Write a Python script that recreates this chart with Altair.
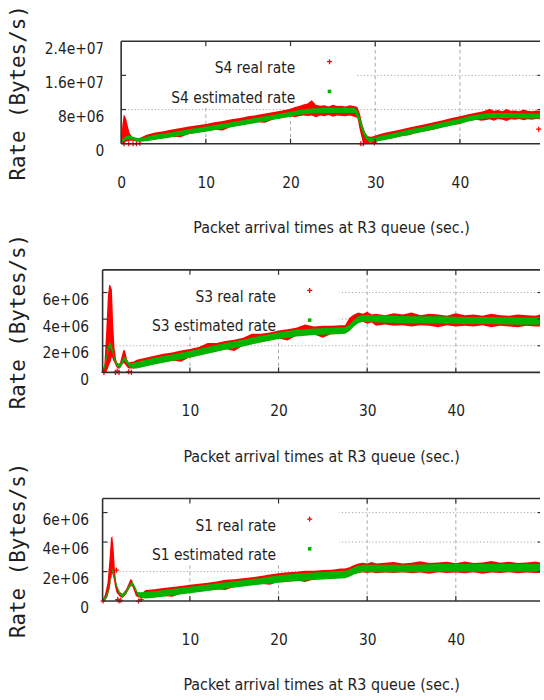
import altair as alt
import pandas as pd

# ---------------- data (rates in units of 1e6 Bytes/s, time in s) ----------------
# --- S4 ---
s4_est_t = [0.0, 0.2, 0.5, 0.9, 1.3, 1.8, 2.3, 3.0, 4.0, 6.0, 8.0, 10.0, 12.0, 14.0, 16.0, 18.0, 20.0,
            21.0, 22.0, 24.0, 26.0, 27.6, 28.0, 28.4, 28.8, 29.2, 29.6, 30.0, 31.0, 32.0, 34.0, 36.0,
            38.0, 40.0, 41.0, 42.0, 43.0, 44.0, 46.0, 48.0, 49.46]
s4_est_lo = [0.0, 0.4, 0.9, 1.1, 0.9, 0.6, 0.5, 0.6, 0.9, 1.5, 2.2, 2.8, 3.5, 4.2, 4.9, 5.6, 6.3,
             6.7, 7.0, 7.2, 7.2, 7.2, 5.6, 3.2, 1.4, 0.5, 0.3, 0.5, 0.8, 1.2, 2.1, 2.9,
             3.8, 4.7, 5.2, 5.6, 5.9, 6.0, 6.0, 5.9, 5.9]
s4_est_hi = [0.3, 1.2, 1.7, 1.9, 1.7, 1.4, 1.3, 1.6, 2.1, 2.7, 3.4, 4.0, 4.7, 5.4, 6.1, 6.8, 7.5,
             7.9, 8.2, 8.4, 8.4, 8.4, 7.4, 4.8, 2.6, 1.5, 1.3, 1.5, 2.0, 2.4, 3.3, 4.1,
             5.0, 5.9, 6.4, 6.8, 7.1, 7.2, 7.2, 7.1, 7.1]
s4_real_t = [0.0, 0.15, 0.3, 0.45, 0.6, 0.8, 1.0, 1.3, 1.7, 2.1, 2.5, 3.0,
             4.0, 5.0, 6.0, 7.0, 8.0, 9.0, 10.0, 11.0, 12.0, 13.0, 14.0, 15.0, 16.0, 17.0, 18.0, 19.0, 20.0,
             20.5, 21.0, 21.5, 22.0, 22.5, 23.0, 23.5, 24.0, 24.5, 25.0, 25.5, 26.0, 26.5, 27.0, 27.5,
             27.9, 28.2, 28.5, 28.8, 29.1, 29.4, 29.7, 30.0,
             31.0, 32.0, 33.0, 34.0, 35.0, 36.0, 37.0, 38.0, 39.0, 40.0, 41.0, 42.0,
             42.5, 43.0, 43.5, 44.0, 44.5, 45.0, 45.5, 46.0, 46.5, 47.0, 47.5, 48.0, 48.5, 49.0,
             49.46]
s4_real_hi = [0.5, 4.5, 6.8, 6.5, 5.8, 4.0, 2.5, 1.5, 1.3, 1.3, 1.6, 2.1,
              2.6, 2.9, 3.3, 3.7, 4.0, 4.3, 4.6, 5.0, 5.3, 5.7, 6.0, 6.4, 6.7, 7.1, 7.4, 7.8, 8.2,
              8.6, 8.8, 9.2, 9.4, 10.2, 9.1, 8.9, 9.0, 8.7, 9.1, 8.8, 8.9, 8.7, 9.0, 8.8,
              8.6, 7.0, 4.4, 2.6, 1.8, 1.6, 1.7, 1.9,
              2.5, 2.9, 3.3, 3.8, 4.2, 4.6, 5.1, 5.5, 6.0, 6.4, 6.9, 7.3,
              7.5, 7.8, 8.2, 7.7, 7.9, 7.6, 8.1, 7.7, 7.8, 7.6, 8.0, 7.7, 7.6, 7.8,
              7.7]
s4_real_lo = [0.0, 0.0, 0.0, 0.3, 0.5, 0.6, 0.7, 0.7, 0.6, 0.5, 0.6, 0.7,
              1.0, 1.3, 1.6, 1.5, 2.3, 2.6, 2.9, 3.25, 3.1, 3.95, 4.3, 4.65, 5.0, 4.9, 5.7, 6.05, 6.4,
              6.2, 6.4, 6.6, 6.5, 6.6, 6.2, 6.6, 6.4, 6.7, 6.3, 6.6, 6.5, 6.4, 6.6, 6.3,
              6.0, 3.0, 0.6, 0.0, 0.0, 0.3, 0.0, 0.4,
              0.9, 1.3, 1.75, 2.0, 2.6, 3.0, 3.3, 3.9, 4.35, 4.6, 5.3, 5.6,
              5.4, 5.5, 5.7, 5.4, 5.8, 5.6, 5.3, 5.7, 5.6, 5.8, 5.5, 5.7, 5.6, 5.8,
              5.7]
s4_single_t = [0.35, 0.9, 1.4, 1.8, 2.2, 28.3, 28.6, 29.9, 49.3]
s4_single_v = [0.0, 0.0, 0.0, 0.0, 0.1, 0.0, 0.0, 0.2, 3.4]

# --- S3 ---
s3_est_t = [0.15, 0.4, 0.7, 0.95, 1.2, 1.5, 1.8, 2.1, 2.4, 2.6, 2.9, 3.2, 3.6, 4.0,
            6.0, 8.0, 10.0, 12.0, 14.0, 16.0, 18.0, 20.0, 22.0, 24.0, 26.0,
            27.5, 28.0, 28.5, 29.0, 29.5, 30.0, 32.0, 35.0, 38.0, 41.0, 44.0, 47.0, 49.5]
s3_est_lo = [0.0, 0.35, 1.3, 1.9, 1.6, 0.85, 0.4, 0.35, 0.65, 0.9, 0.65, 0.4, 0.3, 0.3,
             0.6, 0.85, 1.1, 1.4, 1.7, 1.95, 2.25, 2.5, 2.7, 2.8, 2.85,
             2.9, 3.1, 3.45, 3.7, 3.8, 3.78, 3.73, 3.68, 3.68, 3.63, 3.63, 3.58, 3.58]
s3_est_hi = [0.15, 0.65, 1.7, 2.3, 2.0, 1.15, 0.7, 0.65, 0.95, 1.2, 0.95, 0.7, 0.7, 0.8,
             1.1, 1.35, 1.6, 1.9, 2.2, 2.45, 2.75, 3.0, 3.2, 3.3, 3.35,
             3.4, 3.6, 3.95, 4.2, 4.32, 4.32, 4.27, 4.22, 4.22, 4.17, 4.17, 4.12, 4.12]
s3_real_t = [0.15, 0.35, 0.55, 0.75, 0.9, 1.05, 1.2, 1.35, 1.5, 1.7, 1.9, 2.1, 2.3, 2.5, 2.7, 2.9, 3.1, 3.3, 3.6,
             4.0, 5.0, 6.0, 7.0, 8.0, 9.0, 10.0, 11.0, 12.0, 13.0, 14.0, 15.0, 16.0, 17.0, 18.0, 19.0,
             20.0, 21.0, 22.0, 23.0, 24.0, 25.0, 26.0, 27.0,
             27.5, 28.0, 28.5, 29.0, 29.5, 30.0, 30.5,
             31.0, 32.0, 33.0, 34.0, 35.0, 36.0, 37.0, 38.0, 39.0, 40.0, 41.0, 42.0, 43.0, 44.0, 45.0,
             46.0, 47.0, 48.0, 49.0, 49.5]
s3_real_hi = [0.1, 0.6, 3.0, 5.8, 6.6, 6.5, 6.2, 3.5, 1.8, 0.9, 0.6, 0.7, 1.2, 1.7, 1.6, 1.0, 0.7, 0.8, 0.8,
              0.95, 1.1, 1.25, 1.4, 1.5, 1.65, 1.75, 1.9, 2.2, 2.2, 2.35, 2.45, 2.6, 2.9, 2.9, 3.0,
              3.15, 3.25, 3.35, 3.6, 3.45, 3.5, 3.5, 3.55,
              3.55, 4.1, 4.35, 4.5, 4.4, 4.55, 4.35,
              4.4, 4.3, 4.45, 4.35, 4.5, 4.3, 4.4, 4.35, 4.25, 4.45, 4.3, 4.35, 4.25, 4.4, 4.3,
              4.25, 4.35, 4.3, 4.25, 4.35]
s3_real_lo = [0.0, 0.0, 0.0, 0.3, 0.6, 0.8, 1.2, 0.9, 0.7, 0.4, 0.3, 0.3, 0.5, 0.7, 0.6, 0.4, 0.3, 0.3, 0.3,
              0.35, 0.5, 0.65, 0.77, 0.9, 0.8, 1.15, 1.3, 1.45, 1.6, 1.75, 1.6, 2.0, 2.15, 2.3, 2.42,
              2.55, 2.4, 2.75, 2.8, 2.85, 2.6, 2.9, 2.93,
              2.95, 3.15, 3.5, 3.75, 3.8, 3.65, 3.75,
              3.5, 3.6, 3.5, 3.55, 3.45, 3.55, 3.5, 3.4, 3.55, 3.45, 3.5, 3.45, 3.55, 3.4, 3.5,
              3.45, 3.4, 3.5, 3.45, 3.45]
s3_single_t = [0.3, 1.6, 1.8, 2.0, 3.1, 3.4]
s3_single_v = [0.0, 0.0, 0.1, 0.0, 0.05, 0.0]

# --- S1 ---
s1_est_t = [0.15, 0.5, 0.9, 1.15, 1.3, 1.5, 1.8, 2.1, 2.4, 2.8, 3.2, 3.5, 3.8, 4.1, 4.4, 5.0, 6.0, 8.0,
            10.0, 12.0, 14.0, 16.0, 18.0, 20.0, 22.0, 24.0, 26.0, 27.5, 28.0, 28.5, 29.0, 29.5, 30.0,
            32.0, 35.0, 38.0, 41.0, 44.0, 47.0, 49.5]
s1_est_lo = [0.0, 0.1, 0.7, 1.6, 2.0, 1.5, 0.8, 0.4, 0.25, 0.5, 0.9, 1.1, 0.8, 0.4, 0.2, 0.18, 0.23, 0.38,
             0.53, 0.68, 0.83, 0.98, 1.13, 1.25, 1.35, 1.43, 1.5, 1.55, 1.65, 1.8, 1.9, 1.95, 1.95,
             1.95, 1.95, 1.98, 1.98, 1.98, 1.98, 1.98]
s1_est_hi = [0.15, 0.3, 0.92, 1.82, 2.22, 1.72, 1.02, 0.62, 0.47, 0.72, 1.12, 1.32, 1.02, 0.62, 0.6, 0.62,
             0.67, 0.82, 0.97, 1.12, 1.27, 1.42, 1.57, 1.75, 1.85, 1.93, 2.0, 2.05, 2.15, 2.3, 2.4,
             2.47, 2.47, 2.47, 2.47, 2.52, 2.52, 2.52, 2.52, 2.52]
s1_real_t = [0.15, 0.4, 0.7, 0.95, 1.1, 1.25, 1.4, 1.55, 1.7, 1.9, 2.1, 2.4, 2.8, 3.1, 3.3, 3.5, 3.7, 3.9, 4.2, 4.6,
             5.0, 6.0, 7.0, 8.0, 9.0, 10.0, 11.0, 12.0, 13.0, 14.0, 15.0, 16.0, 17.0, 18.0, 19.0, 20.0,
             21.0, 22.0, 23.0, 24.0, 25.0, 26.0, 27.0,
             27.5, 28.0, 28.5, 29.0, 29.5, 30.0, 30.5,
             31.0, 32.0, 33.0, 34.0, 35.0, 36.0, 37.0, 38.0, 39.0, 40.0, 41.0, 42.0, 43.0, 44.0, 45.0,
             46.0, 47.0, 48.0, 49.0, 49.5]
s1_real_hi = [0.1, 0.4, 1.2, 3.0, 4.3, 4.4, 3.5, 2.0, 1.2, 0.8, 0.6, 0.5, 0.8, 1.2, 1.5, 1.4, 1.0, 0.7, 0.55, 0.55,
              0.75, 0.8, 0.88, 0.95, 1.02, 1.1, 1.18, 1.25, 1.32, 1.45, 1.48, 1.55, 1.62, 1.7, 1.8, 1.88,
              1.95, 1.98, 2.05, 2.05, 2.1, 2.12, 2.2,
              2.2, 2.3, 2.45, 2.55, 2.6, 2.55, 2.65,
              2.55, 2.6, 2.65, 2.55, 2.6, 2.7, 2.58, 2.62, 2.66, 2.56, 2.68, 2.58, 2.62, 2.72, 2.6,
              2.66, 2.58, 2.62, 2.68, 2.62]
s1_real_lo = [0.0, 0.0, 0.3, 0.9, 1.6, 1.9, 1.5, 1.0, 0.6, 0.45, 0.3, 0.2, 0.45, 0.8, 1.0, 1.0, 0.7, 0.35, 0.25, 0.25,
              0.23, 0.28, 0.35, 0.3, 0.5, 0.58, 0.65, 0.73, 0.8, 0.75, 0.95, 1.03, 1.1, 1.18, 1.1, 1.3,
              1.35, 1.4, 1.3, 1.48, 1.52, 1.55, 1.58,
              1.6, 1.7, 1.85, 1.9, 1.95, 1.9, 1.95,
              1.88, 1.93, 1.9, 1.95, 1.88, 1.93, 1.86, 1.95, 1.9, 1.93, 1.88, 1.95, 1.86, 1.93, 1.9,
              1.95, 1.88, 1.93, 1.9, 1.92]
s1_single_t = [0.2, 1.7, 1.85, 2.0, 2.2, 4.2, 4.5]
s1_single_v = [0.0, 2.1, 0.1, 0.0, 0.05, 0.0, 0.1]

# axis ticks / labels
s4_y_ticks = [0, 8, 16, 24]
s4_y_labels = ["0", "8e+06", "1.6e+07", "2.4e+07"]
s31_y_ticks = [0, 2, 4, 6]
s31_y_labels = ["0", "2e+06", "4e+06", "6e+06"]
s4_x_ticks = [0, 10, 20, 30, 40]
s31_x_ticks = [10, 20, 30, 40]

X_TITLE = "Packet arrival times at R3 queue (sec.)"
Y_TITLE = "Rate (Bytes/s)"

# ---------------- styling ----------------
PW = 441.3
PH = 103.4
FONT = "DejaVu Sans Condensed, Liberation Sans Narrow, Liberation Sans, sans-serif"
YT_FONT = "DejaVu Sans Mono"
TEXT = "#1e1e1e"
RED = "#ff0000"
GREEN = "#00b400"
GRID = "#a8a8a8"
BORDER = "#303030"
PLUS = "M-1,0L1,0M0,-1L0,1"


def label_expr(values, labels):
    expr = "''"
    for v, l in reversed(list(zip(values, labels))):
        expr = f"datum.value == {v} ? '{l}' : ({expr})"
    return expr


def panel(p):
    xmin, xmax = p["xdom"]
    ymax = p["ymax"]
    xb = p["xborder"]
    xb_px = (xb - xmin) / (xmax - xmin) * PW
    xs = alt.Scale(domain=[xmin, xmax], nice=False, zero=False)
    ys = alt.Scale(domain=[0, ymax], nice=False, zero=False)

    x_axis = alt.Axis(values=p["xticks"], title=X_TITLE, grid=False, domain=False, ticks=False, tickSize=0,
                      labelPadding=39, labelBaseline="middle", labelFlush=False, labelFont=FONT,
                      labelFontSize=15.5, labelColor=TEXT, titleFont=FONT, titleFontSize=16,
                      titleFontWeight="normal", titleColor=TEXT, titleX=p["xtitle_x"], titleY=84.5,
                      titleBaseline="middle", titleAlign="center")
    y_axis = alt.Axis(values=p["yticks"], labelExpr=label_expr(p["yticks"], p["ylabels"]), title=Y_TITLE,
                      grid=False, domain=False, ticks=False, tickSize=0, labelPadding=p["ylabpad"],
                      labelOffset=7, offset=p["yoffset"], labelFont=FONT, labelFontSize=15.5,
                      labelColor=TEXT, titleFont=YT_FONT, titleFontSize=21, titleFontWeight="normal",
                      titleColor=TEXT, titleAngle=270, titleX=p["ytitle_x"], titleY=PH / 2,
                      titleBaseline="middle", titleAlign="center")

    def X(f):
        return alt.X(f"{f}:Q", scale=xs, axis=x_axis)

    def Y(f):
        return alt.Y(f"{f}:Q", scale=ys, axis=y_axis)

    ygrid = [v for v in p["yticks"] if 0 < v < ymax]
    xgrid = [v for v in p["xticks"] if v > xb]

    grid_h = alt.Chart(pd.DataFrame({"v": ygrid, "xa": [xb] * len(ygrid), "xe": [xmax] * len(ygrid)})).mark_rule(
        color=GRID, strokeWidth=1, strokeDash=[1.2, 2.2]).encode(x=X("xa"), x2="xe", y=Y("v"))
    grid_v = alt.Chart(pd.DataFrame({"t": xgrid, "y0": [0] * len(xgrid), "y1": [ymax] * len(xgrid)})).mark_rule(
        color=GRID, strokeWidth=1, strokeDash=[3.5, 3]).encode(x=X("t"), y=Y("y0"), y2="y1")
    box = alt.Chart(pd.DataFrame({"k": [0]})).mark_rect(color="white").encode(
        x=alt.value(0), x2=alt.value(p["box_r"]), y=alt.value(0), y2=alt.value(65))

    real = alt.Chart(pd.DataFrame({"t": p["real_t"], "lo": p["real_lo"], "hi": p["real_hi"]})).mark_area(
        color=RED, clip=True).encode(x=X("t"), y=Y("lo"), y2="hi")
    est = alt.Chart(pd.DataFrame({"t": p["est_t"], "lo": p["est_lo"], "hi": p["est_hi"]})).mark_area(
        color=GREEN, clip=True).encode(x=X("t"), y=Y("lo"), y2="hi")
    singles = alt.Chart(pd.DataFrame({"t": p["single_t"], "v": p["single_v"]})).mark_point(
        shape=PLUS, size=26, filled=False, strokeWidth=1.3, color=RED, opacity=1).encode(x=X("t"), y=Y("v"))

    left_border = alt.Chart(pd.DataFrame({"x": [xb], "y0": [0], "y1": [ymax]})).mark_rule(
        color=BORDER, strokeWidth=1.6).encode(x=X("x"), y=Y("y0"), y2="y1")
    hb = alt.Chart(pd.DataFrame({"y": [0, ymax], "xa": [xb, xb], "xe": [xmax, xmax]})).mark_rule(
        color=BORDER, strokeWidth=1.6).encode(x=X("xa"), x2="xe", y=Y("y"))
    tick_df = pd.DataFrame({"t": xgrid})
    tb = alt.Chart(tick_df).mark_rule(color=BORDER, strokeWidth=1.2).encode(
        x=X("t"), y=alt.value(PH), y2=alt.value(PH - 5))
    tt = alt.Chart(tick_df).mark_rule(color=BORDER, strokeWidth=1.2).encode(
        x=X("t"), y=alt.value(0), y2=alt.value(5))
    ytick_df = pd.DataFrame({"v": ygrid})
    tl = alt.Chart(ytick_df).mark_rule(color=BORDER, strokeWidth=1.2).encode(
        y=Y("v"), x=alt.value(xb_px), x2=alt.value(xb_px + 5))
    tr = alt.Chart(ytick_df).mark_rule(color=BORDER, strokeWidth=1.2).encode(
        y=Y("v"), x=alt.value(PW - 2.5), x2=alt.value(PW))

    t1 = alt.Chart(pd.DataFrame({"label": [p["leg_real"]]})).mark_text(
        align="right", baseline="middle", font=FONT, fontSize=15.5, color=TEXT).encode(
        text="label:N", x=alt.value(p["leg_tx"]), y=alt.value(27.4))
    t2 = alt.Chart(pd.DataFrame({"label": [p["leg_est"]]})).mark_text(
        align="right", baseline="middle", font=FONT, fontSize=15.5, color=TEXT).encode(
        text="label:N", x=alt.value(p["leg_tx"]), y=alt.value(57.0))
    s1 = alt.Chart(pd.DataFrame({"k": [0]})).mark_point(
        shape=PLUS, size=26, filled=False, strokeWidth=1.3, color=RED, opacity=1).encode(
        x=alt.value(p["leg_sx"]), y=alt.value(20.7))
    s2 = alt.Chart(pd.DataFrame({"k": [0]})).mark_square(size=13, color=GREEN, opacity=1).encode(
        x=alt.value(p["leg_sx"]), y=alt.value(50.7))

    return alt.layer(grid_h, grid_v, box, real, est, singles, left_border, hb, tb, tt, tl, tr,
                     t1, t2, s1, s2).properties(width=PW, height=PH)


p4 = dict(xdom=[-2.19, 49.46], ymax=24, xborder=0, xticks=s4_x_ticks, yticks=s4_y_ticks, ylabels=s4_y_labels,
          ylabpad=17.4, yoffset=-18.7, ytitle_x=-103.4, xtitle_x=230.5, box_r=255.3,
          leg_tx=194.3, leg_sx=228.9, leg_real="S4 real rate", leg_est="S4 estimated rate",
          real_t=s4_real_t, real_lo=s4_real_lo, real_hi=s4_real_hi,
          est_t=s4_est_t, est_lo=s4_est_lo, est_hi=s4_est_hi, single_t=s4_single_t, single_v=s4_single_v)
p3 = dict(xdom=[0.15, 49.5], ymax=7.7, xborder=0.15, xticks=s31_x_ticks, yticks=s31_y_ticks, ylabels=s31_y_labels,
          ylabpad=14.2, yoffset=0, ytitle_x=-84.7, xtitle_x=220.5, box_r=239.1,
          leg_tx=174.9, leg_sx=208.9, leg_real="S3 real rate", leg_est="S3 estimated rate",
          real_t=s3_real_t, real_lo=s3_real_lo, real_hi=s3_real_hi,
          est_t=s3_est_t, est_lo=s3_est_lo, est_hi=s3_est_hi, single_t=s3_single_t, single_v=s3_single_v)
p1 = dict(xdom=[0.15, 49.5], ymax=6.95, xborder=0.15, xticks=s31_x_ticks, yticks=s31_y_ticks, ylabels=s31_y_labels,
          ylabpad=14.2, yoffset=0, ytitle_x=-84.7, xtitle_x=220.5, box_r=239.1,
          leg_tx=174.9, leg_sx=208.9, leg_real="S1 real rate", leg_est="S1 estimated rate",
          real_t=s1_real_t, real_lo=s1_real_lo, real_hi=s1_real_hi,
          est_t=s1_est_t, est_lo=s1_est_lo, est_hi=s1_est_hi, single_t=s1_single_t, single_v=s1_single_v)

chart = alt.vconcat(panel(p4), panel(p3), panel(p1), spacing=126.7, bounds="flush").properties(
    padding={"left": 7.5, "top": 1.5, "right": 0, "bottom": 0}, background="white"
).configure_view(strokeWidth=0)

chart.save("out.html", embed_options={"renderer": "svg", "actions": False})
